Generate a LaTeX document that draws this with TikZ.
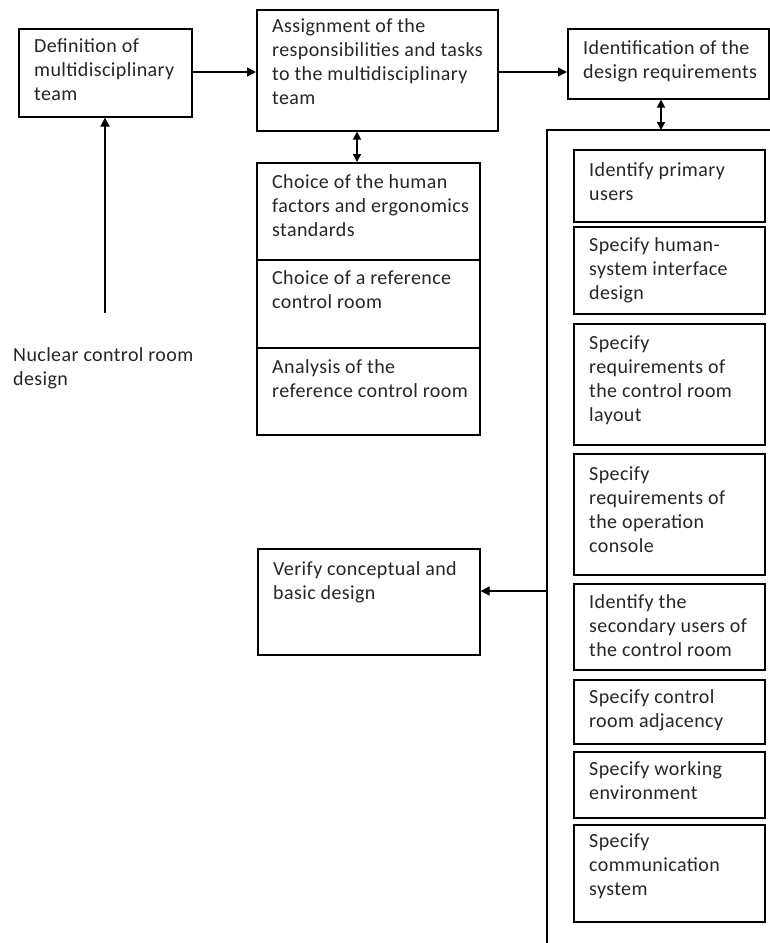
\documentclass[tikz,border=0pt]{standalone}
\usepackage{fontspec}
\setmainfont[LetterSpace=2]{Carlito}
\usetikzlibrary{arrows.meta,calc}
\begin{document}
\begin{tikzpicture}[x=1pt,y=-1pt,
  box/.style={draw=black, line width=1.6pt, anchor=north west, inner sep=0pt},
  txt/.style={anchor=north west, inner sep=0pt, align=left, font=\fontsize{20}{24}\selectfont, text=black!85, execute at begin node={\rule{0pt}{15pt}}},
  arr/.style={line width=1.6pt, -{Triangle[length=9pt,width=9pt]}},
  darr/.style={line width=1.6pt, {Triangle[length=8pt,width=8pt]}-{Triangle[length=8pt,width=8pt]}}]
\useasboundingbox (0,0) rectangle (770,943);
\fill[white] (0,0) rectangle (770,943);

% top row
\node[box, minimum width=173pt, minimum height=88pt] (b1) at (18,28) {};
\node[txt] (t1) at ($(b1.north west)+(16,10)$) {Definition of\\multidisciplinary\\team};
\node[box, minimum width=241pt, minimum height=121pt] (b2) at (256,9) {};
\node[txt] (t2) at ($(b2.north west)+(16,9)$) {Assignment of the\\responsibilities and tasks\\to the multidisciplinary\\team};
\node[box, minimum width=201pt, minimum height=70pt] (b3) at (567,28) {};
\node[txt] (t3) at ($(b3.north west)+(16,12)$) {Identification of the\\design requirements};

% choice stack
\node[box, minimum width=223pt, minimum height=97pt] (s1) at (256,162) {};
\node[txt] (ts1) at ($(s1.north west)+(16,12)$) {Choice of the human\\factors and ergonomics\\standards};
\node[box, minimum width=223pt, minimum height=88pt] (s2) at (256,259) {};
\node[txt] (ts2) at ($(s2.north west)+(16,11)$) {Choice of a reference\\control room};
\node[box, minimum width=223pt, minimum height=87pt] (s3) at (256,347) {};
\node[txt] (ts3) at ($(s3.north west)+(16,12)$) {Analysis of the\\reference control room};

% nuclear label
\node[txt] (nuc) at (13,347) {Nuclear control room\\design};
\coordinate (nc) at (105,313);

% verify
\node[box, minimum width=222pt, minimum height=106pt] (ver) at (257,548) {};
\node[txt] (tv) at ($(ver.north west)+(16,13)$) {Verify conceptual and\\basic design};

% frame
\coordinate (ftop) at (661,130);
\coordinate (fleft) at (547,591);
\draw[line width=1.6pt] (770,130) -- (547,130) -- (547,943);

% right stack
\node[box, minimum width=191pt, minimum height=72pt] (ra) at (573,149) {};
\node[txt] at ($(ra.north west)+(16,13)$) {Identify primary\\users};
\node[box, minimum width=191pt, minimum height=87pt] (rb) at (573,226) {};
\node[txt] at ($(rb.north west)+(16,11)$) {Specify human-\\system interface\\design};
\node[box, minimum width=191pt, minimum height=121pt] (rc) at (573,323) {};
\node[txt] at ($(rc.north west)+(16,13)$) {Specify\\requirements of\\the control room\\layout};
\node[box, minimum width=191pt, minimum height=121pt] (rd) at (573,453) {};
\node[txt] at ($(rd.north west)+(16,14)$) {Specify\\requirements of\\the operation\\console};
\node[box, minimum width=191pt, minimum height=86pt] (re) at (573,583) {};
\node[txt] at ($(re.north west)+(16,11)$) {Identify the\\secondary users of\\the control room};
\node[box, minimum width=191pt, minimum height=64pt] (rf) at (573,679) {};
\node[txt] at ($(rf.north west)+(16,10)$) {Specify control\\room adjacency};
\node[box, minimum width=191pt, minimum height=66pt] (rg) at (573,751) {};
\node[txt] at ($(rg.north west)+(16,10)$) {Specify working\\environment};
\node[box, minimum width=191pt, minimum height=97pt] (rh) at (573,824) {};
\node[txt] at ($(rh.north west)+(16,10)$) {Specify\\communication\\system};

% connectors
\coordinate (row) at (0,72);
\coordinate (c2) at (357,0);
\draw[arr] (b1.east |- row) -- (b2.west |- row);
\draw[arr] (b2.east |- row) -- (b3.west |- row);
\draw[darr] (b2.south -| c2) -- (s1.north -| c2);
\draw[darr] (b3.south -| ftop) -- (ftop);
\draw[arr] (nc) -- (nc |- b1.south);
\draw[arr] (fleft) -- (fleft -| ver.east);
\end{tikzpicture}
\end{document}
